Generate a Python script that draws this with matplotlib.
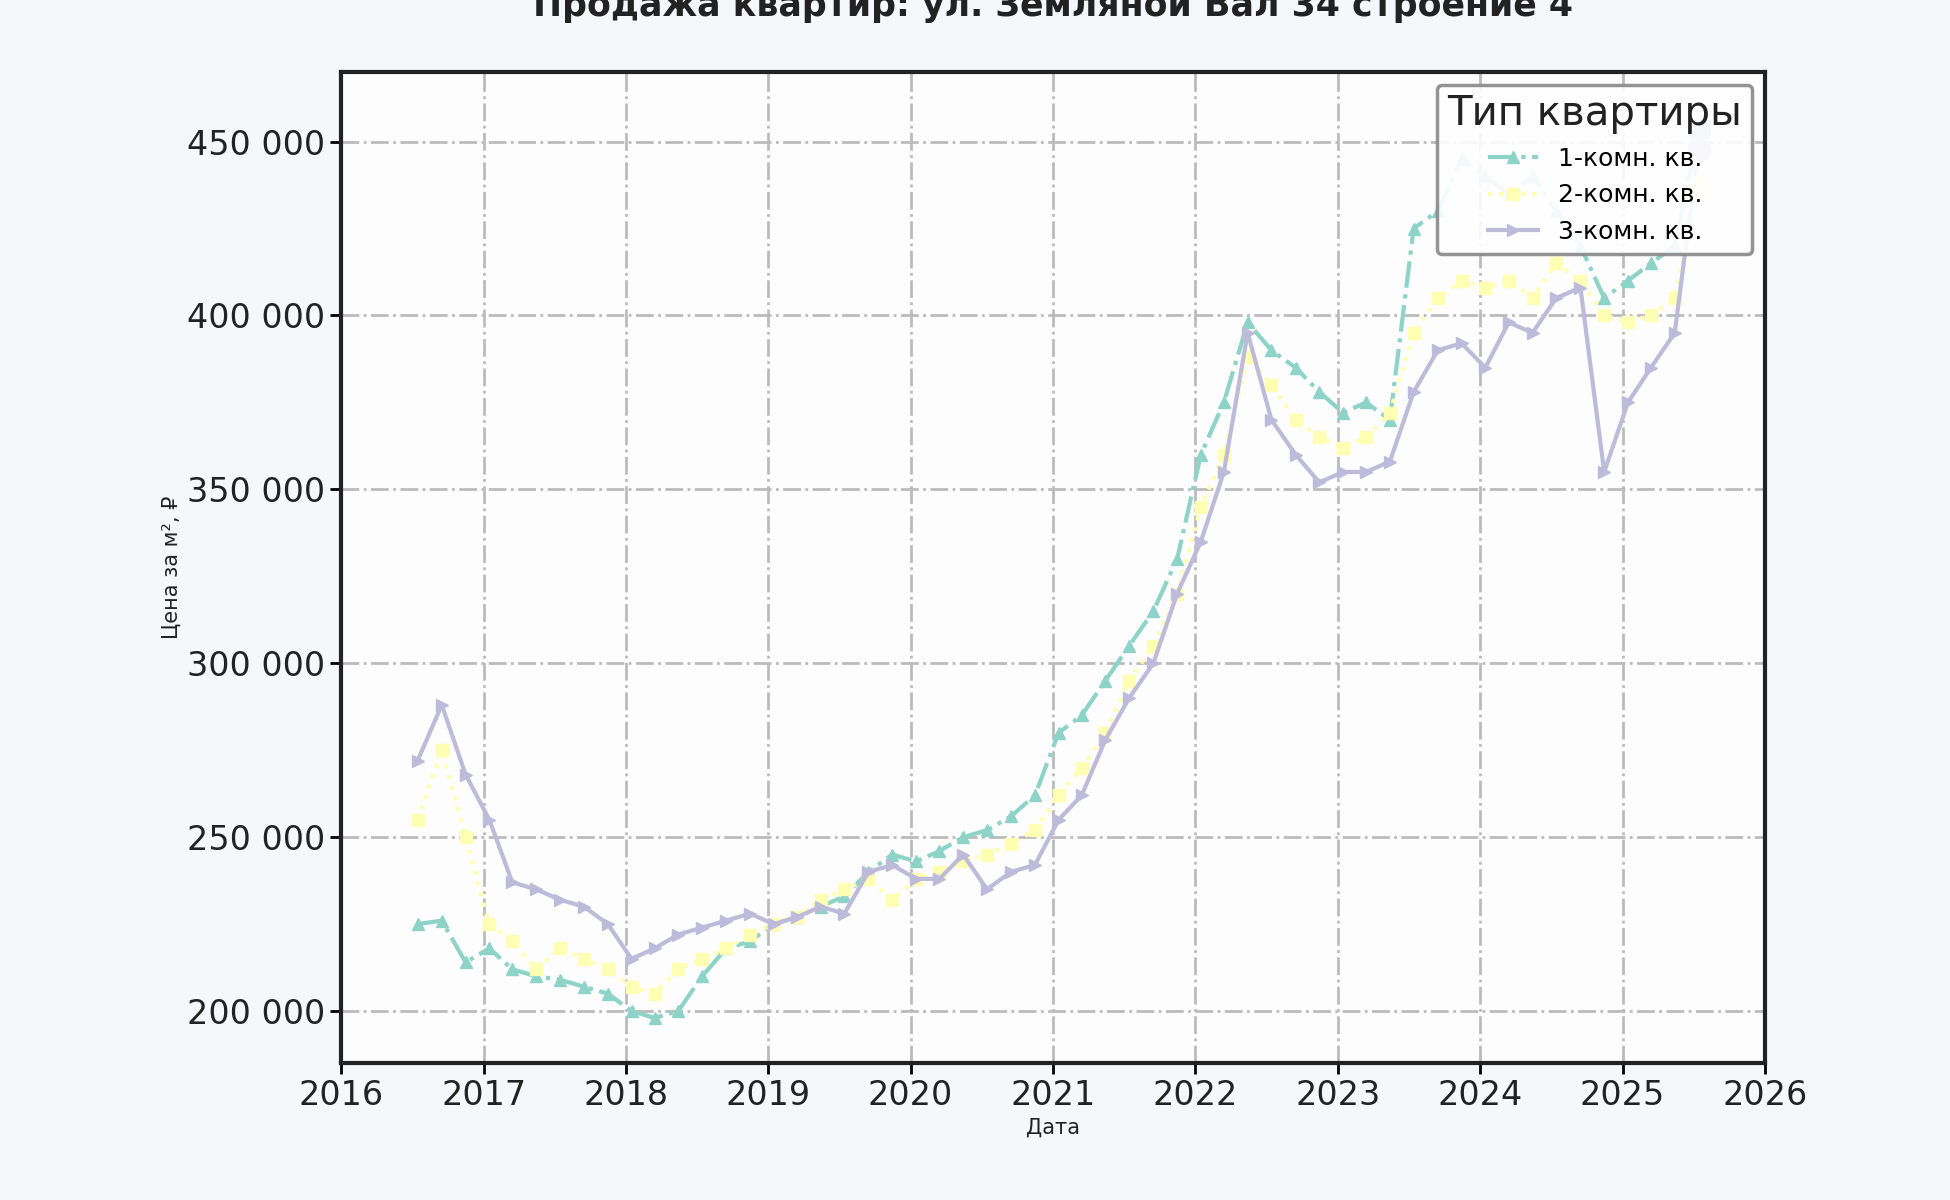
import pandas as pd
import matplotlib
matplotlib.use("Agg")
from matplotlib import pyplot as plt
from matplotlib.ticker import FuncFormatter
import matplotlib.dates as mdates

dates = pd.date_range("2016-06-15", periods=55, freq="2MS") + pd.Timedelta(days=14)

one_room = [225, 226, 214, 218, 212, 210, 209, 207, 205, 200, 198, 200, 210, 218, 220, 225,
            227, 230, 233, 240, 245, 243, 246, 250, 252, 256, 262, 280, 285, 295, 305, 315,
            330, 360, 375, 398, 390, 385, 378, 372, 375, 370, 425, 430, 445, 440, 435, 440,
            430, 420, 405, 410, 415, 420, 453]
two_room = [255, 275, 250, 225, 220, 212, 218, 215, 212, 207, 205, 212, 215, 218, 222, 225,
            227, 232, 235, 238, 232, 238, 240, 243, 245, 248, 252, 262, 270, 280, 295, 305,
            320, 345, 360, 388, 380, 370, 365, 362, 365, 372, 395, 405, 410, 408, 410, 405,
            415, 410, 400, 398, 400, 405, 437]
three_room = [272, 288, 268, 255, 237, 235, 232, 230, 225, 215, 218, 222, 224, 226, 228, 225,
              227, 230, 228, 240, 242, 238, 238, 245, 235, 240, 242, 255, 262, 278, 290, 300,
              320, 335, 355, 395, 370, 360, 352, 355, 355, 358, 378, 390, 392, 385, 398, 395,
              405, 408, 355, 375, 385, 395, 448]

series = [
    ("1-комн. кв.", one_room, "#8dd3c7", "-.", "^"),
    ("2-комн. кв.", two_room, "#ffffb3", ":", "s"),
    ("3-комн. кв.", three_room, "#bebada", "-", ">"),
]

fig = plt.figure(figsize=(19.5, 12), dpi=100, facecolor="#f5f7fb")
ax = fig.add_axes([0.175, 0.114, 0.73, 0.826])
ax.set_facecolor("#fdfdfd")

for label, vals, color, ls, mk in series:
    y = [v * 1000 for v in vals]
    ax.plot(dates, y, label=label, color=color, linestyle=ls, marker=mk,
            markersize=8, linewidth=3)
    ax.scatter([dates[-1]], [y[-1]], color=color, s=260, zorder=5)

ax.set_xlim(pd.Timestamp("2016-01-01"), pd.Timestamp("2026-01-01"))
ax.set_ylim(185000, 470000)
ax.xaxis.set_major_locator(mdates.YearLocator())
ax.xaxis.set_major_formatter(mdates.DateFormatter("%Y"))
ax.yaxis.set_major_formatter(FuncFormatter(lambda v, p: f"{int(v):,}".replace(",", " ")))
ax.tick_params(labelsize=24, length=8, width=2, labelcolor="#222222")
ax.grid(True, linestyle="-.", color="#bbbbbb", linewidth=2)
for s in ax.spines.values():
    s.set_linewidth(3)
    s.set_color("#222222")

ax.set_title("Продажа квартир: ул. Земляной Вал 34 строение 4", fontsize=25,
             fontweight="bold", pad=40, color="#222222")
ax.set_xlabel("Дата", fontsize=15, color="#222222")
ax.set_ylabel("Цена за м², ₽", fontsize=15, color="#222222")
leg = ax.legend(title="Тип квартиры", loc="upper right", fontsize=18, title_fontsize=29,
                framealpha=0.9, edgecolor="#888888")
leg.get_frame().set_linewidth(2.5)
leg.get_title().set_color("#222222")

fig.savefig("out.png", dpi=100, facecolor=fig.get_facecolor())
